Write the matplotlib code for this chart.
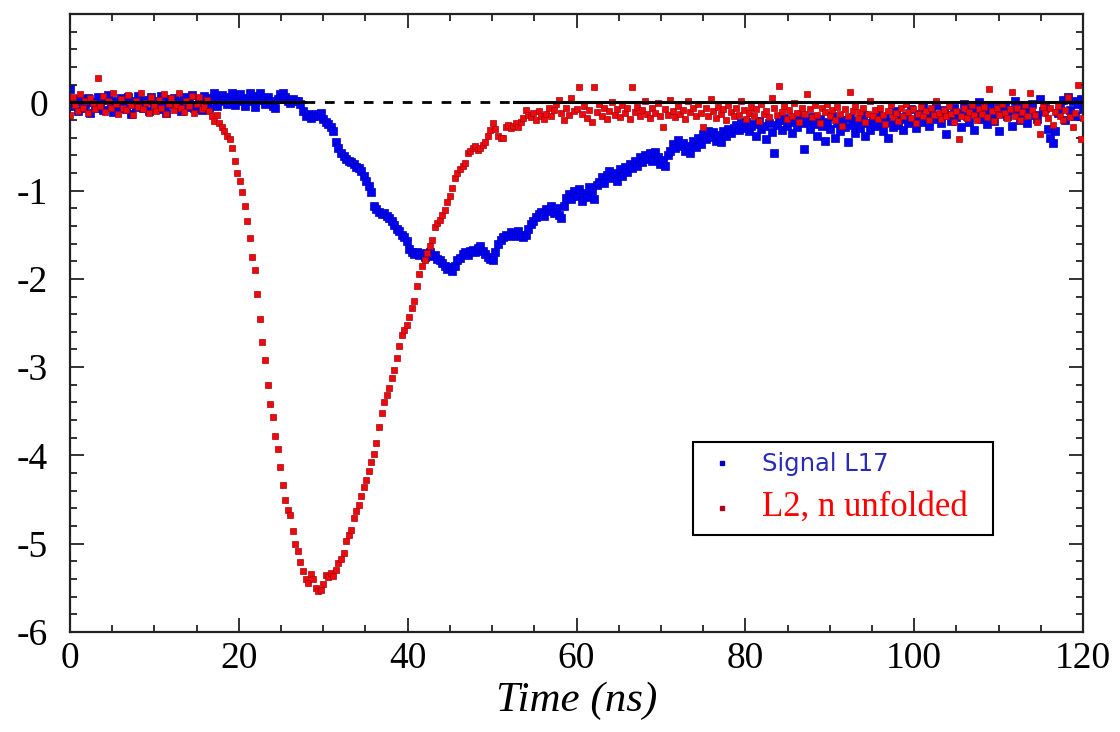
import numpy as np
import matplotlib
matplotlib.use("Agg")
import matplotlib.pyplot as plt
from matplotlib.ticker import MultipleLocator, FixedLocator
from matplotlib.lines import Line2D

# =========================
# data (read off the picture, sampled every 0.3 ns)
# =========================

time_ns = np.round(np.arange(401) * 0.3, 1)

signal_l17 = [
    0.15, -0.04, 0.02, -0.10, 0.04, -0.07, -0.02, 0.05, -0.12, 0.00,
    -0.06, 0.06, -0.03, -0.09, 0.03, 0.08, -0.04, -0.11, 0.01, -0.06,
    0.05, -0.02, -0.08, 0.06, -0.13, 0.02, -0.05, 0.07, -0.01, -0.07,
    0.03, -0.10, 0.06, -0.04, 0.01, -0.08, 0.07, -0.03, -0.12, 0.04,
    -0.02, 0.05, -0.07, 0.02, -0.10, 0.06, -0.05, 0.00, 0.08, -0.06,
    -0.03, 0.04, -0.09, 0.07, -0.01, -0.06, 0.05, 0.10, -0.04, 0.02,
    0.08, 0.03, -0.02, 0.06, 0.10, -0.03, 0.04, 0.09, 0.01, -0.04,
    0.05, 0.10, 0.02, -0.05, 0.07, 0.11, 0.03, -0.02, 0.06, 0.01,
    -0.04, -0.06, 0.04, 0.09, 0.11, 0.06, 0.02, -0.01, 0.04, 0.02,
    0.01, -0.02, -0.10, -0.15, -0.13, -0.18, -0.16, -0.13, -0.15, -0.12,
    -0.19, -0.22, -0.25, -0.28, -0.33, -0.45, -0.52, -0.57, -0.61, -0.64,
    -0.66, -0.68, -0.70, -0.73, -0.75, -0.78, -0.84, -0.89, -0.95, -1.02,
    -1.17, -1.21, -1.24, -1.27, -1.25, -1.29, -1.31, -1.35, -1.39, -1.43,
    -1.46, -1.50, -1.53, -1.57, -1.66, -1.70, -1.72, -1.70, -1.73, -1.71,
    -1.75, -1.72, -1.70, -1.74, -1.73, -1.77, -1.79, -1.82, -1.86, -1.89,
    -1.87, -1.91, -1.85, -1.79, -1.76, -1.72, -1.70, -1.73, -1.69, -1.67,
    -1.70, -1.65, -1.63, -1.68, -1.72, -1.75, -1.77, -1.79, -1.70, -1.60,
    -1.56, -1.53, -1.50, -1.52, -1.47, -1.49, -1.51, -1.46, -1.50, -1.53,
    -1.50, -1.44, -1.38, -1.35, -1.30, -1.27, -1.24, -1.29, -1.21, -1.23,
    -1.18, -1.25, -1.20, -1.28, -1.31, -1.17, -1.08, -1.04, -1.10, -1.00,
    -1.06, -0.98, -1.12, -1.03, -1.07, -0.96, -1.01, -1.09, -0.94, -0.90,
    -0.85, -0.91, -0.82, -0.78, -0.86, -0.80, -0.89, -0.76, -0.83, -0.73,
    -0.79, -0.70, -0.74, -0.66, -0.72, -0.62, -0.68, -0.60, -0.64, -0.58,
    -0.67, -0.56, -0.62, -0.70, -0.65, -0.72, -0.60, -0.55, -0.47, -0.52,
    -0.43, -0.50, -0.46, -0.55, -0.49, -0.58, -0.44, -0.51, -0.40, -0.47,
    -0.36, -0.42, -0.33, -0.39, -0.34, -0.44, -0.37, -0.45, -0.32, -0.38,
    -0.30, -0.35, -0.29, -0.26, -0.31, -0.24, -0.29, -0.22, -0.33, -0.27,
    -0.25, -0.38, -0.21, -0.30, -0.27, -0.42, -0.24, -0.34, -0.57, -0.26,
    -0.20, -0.31, -0.18, -0.27, -0.22, -0.35, -0.19, -0.28, -0.16, -0.24,
    -0.53, -0.21, -0.30, -0.17, -0.25, -0.38, -0.19, -0.27, -0.44, -0.22,
    -0.30, -0.16, -0.41, -0.24, -0.33, -0.20, -0.28, -0.45, -0.18, -0.26,
    -0.35, -0.21, -0.29, -0.14, -0.38, -0.23, -0.31, -0.19, -0.27, -0.12,
    -0.25, -0.33, -0.17, -0.40, -0.22, -0.28, -0.10, -0.26, -0.19, -0.31,
    -0.15, -0.24, -0.08, -0.20, -0.29, -0.13, -0.22, -0.05, -0.18, -0.27,
    -0.11, -0.19, -0.03, -0.16, -0.24, -0.09, -0.36, -0.14, -0.21, -0.06,
    -0.17, -0.12, -0.28, -0.02, -0.15, -0.22, -0.08, -0.31, -0.13, 0.00,
    -0.19, -0.10, -0.25, -0.04, -0.14, -0.21, -0.07, -0.32, -0.12, -0.03,
    -0.16, -0.09, -0.27, 0.02, -0.13, -0.20, -0.05, -0.15, -0.24, -0.08,
    -0.02, -0.14, -0.19, 0.04, -0.10, -0.07, -0.30, -0.40, -0.46, -0.33,
    -0.12, -0.05, 0.03, -0.20, 0.06, -0.09, 0.01, -0.16, -0.02, 0.04,
    -0.08,
]

l2_unfolded = [
    -0.14, 0.06, -0.03, -0.10, 0.09, -0.06, 0.02, -0.12, 0.05, -0.01,
    -0.08, 0.28, -0.04, 0.07, -0.11, 0.01, -0.07, 0.10, -0.02, -0.13,
    0.04, -0.06, -0.09, 0.08, -0.03, -0.14, 0.02, -0.05, 0.11, -0.08,
    -0.01, -0.12, 0.06, -0.04, -0.10, 0.03, -0.07, 0.09, -0.13, -0.02,
    0.05, -0.09, -0.03, 0.10, -0.06, -0.11, 0.01, -0.04, 0.07, -0.12,
    -0.02, 0.06, -0.08, -0.05, 0.03, -0.10, -0.15, -0.21, -0.14, -0.24,
    -0.28, -0.33, -0.38, -0.42, -0.52, -0.66, -0.80, -0.89, -1.02, -1.18,
    -1.34, -1.54, -1.75, -1.90, -2.17, -2.45, -2.72, -2.92, -3.20, -3.42,
    -3.56, -3.78, -3.93, -4.13, -4.33, -4.50, -4.62, -4.67, -4.86, -5.00,
    -5.08, -5.21, -5.31, -5.40, -5.45, -5.34, -5.40, -5.50, -5.53, -5.52,
    -5.46, -5.35, -5.38, -5.33, -5.36, -5.30, -5.22, -5.17, -5.10, -4.97,
    -4.90, -4.85, -4.71, -4.63, -4.56, -4.46, -4.36, -4.28, -4.18, -4.08,
    -3.98, -3.86, -3.68, -3.52, -3.40, -3.32, -3.24, -3.12, -3.03, -2.90,
    -2.76, -2.64, -2.58, -2.52, -2.43, -2.33, -2.25, -2.08, -1.94, -1.86,
    -1.79, -1.71, -1.63, -1.56, -1.41, -1.37, -1.33, -1.28, -1.22, -1.13,
    -1.06, -0.97, -0.86, -0.80, -0.76, -0.72, -0.69, -0.58, -0.55, -0.52,
    -0.50, -0.54, -0.52, -0.48, -0.45, -0.38, -0.31, -0.24, -0.30, -0.38,
    -0.41, -0.40, -0.28, -0.26, -0.29, -0.27, -0.24, -0.28, -0.22, -0.18,
    -0.09, -0.14, -0.17, -0.12, -0.20, -0.10, -0.15, -0.19, -0.13, -0.07,
    -0.16, -0.09, -0.02, 0.03, -0.12, -0.20, -0.06, -0.14, 0.05, -0.10,
    -0.08, 0.17, -0.13, -0.04, -0.18, -0.09, -0.22, 0.17, -0.11, -0.02,
    -0.15, -0.06, -0.19, -0.10, 0.00, -0.14, -0.08, -0.17, -0.03, -0.12,
    -0.07, -0.19, 0.17, -0.11, -0.05, -0.16, -0.09, 0.02, -0.13, -0.18,
    -0.06, -0.12, -0.01, -0.15, -0.28, -0.08, -0.14, 0.03, -0.10, -0.17,
    -0.04, -0.13, -0.09, -0.19, 0.01, -0.11, -0.06, -0.16, -0.02, -0.12,
    -0.28, -0.07, -0.15, 0.04, -0.10, -0.18, -0.05, -0.13, -0.08, -0.20,
    -0.03, -0.11, -0.16, -0.06, -0.14, 0.02, -0.09, -0.19, -0.12, -0.05,
    -0.15, -0.08, -0.21, -0.02, -0.13, -0.10, -0.17, 0.05, -0.07, -0.14,
    0.18, -0.11, -0.04, -0.19, -0.09, -0.15, -0.01, -0.12, -0.22, -0.06,
    -0.13, 0.09, -0.08, -0.17, -0.03, -0.14, -0.24, -0.07, -0.11, -0.02,
    -0.16, -0.09, -0.20, -0.05, -0.13, -0.27, -0.08, -0.15, 0.12, -0.10,
    -0.04, -0.18, -0.11, -0.07, -0.22, -0.13, 0.01, -0.16, -0.09, -0.19,
    -0.06, -0.14, -0.25, -0.10, -0.03, -0.17, -0.12, -0.21, -0.07, -0.15,
    -0.02, -0.11, -0.18, -0.08, -0.23, -0.13, -0.05, -0.16, -0.10, -0.20,
    -0.07, -0.14, 0.02, -0.12, -0.19, -0.09, -0.16, -0.04, -0.13, -0.22,
    -0.10, -0.42, -0.15, -0.06, -0.18, -0.11, -0.03, -0.14, -0.20, -0.08,
    -0.13, -0.05, -0.17, 0.15, -0.10, -0.21, -0.07, -0.14, -0.02, -0.12,
    -0.18, -0.08, 0.12, -0.15, -0.06, -0.20, -0.11, -0.03, -0.16, 0.11,
    -0.09, -0.14, -0.22, -0.36, -0.05, -0.12, -0.18, -0.07, -0.26, -0.11,
    -0.04, -0.15, -0.20, -0.09, 0.06, -0.17, -0.28, -0.12, 0.20, -0.42,
    -0.18,
]

# zero reference line: solid / dashed / solid pieces (ns)
zero_solid_left = [0, 27.8]
zero_dashed = [27.8, 52.6]
zero_solid_right = [52.6, 120]

x_ticks = [0, 20, 40, 60, 80, 100, 120]
y_ticks = [0, -1, -2, -3, -4, -5, -6]

# =========================
# figure
# =========================

plt.rcParams["axes.unicode_minus"] = False

fig = plt.figure(figsize=(11.2, 7.32), dpi=100)
ax = fig.add_axes([0.0625, 0.1366, 0.9045, 0.8443])

ax.plot(time_ns, signal_l17, ls="none", marker="s", ms=5.3,
        mfc="#0000f5", mec="#0000b8", mew=0.5, zorder=2)
ax.plot(time_ns, l2_unfolded, ls="none", marker="s", ms=5.0,
        mfc="#ee0a0a", mec="#a80010", mew=0.5, zorder=3)

ax.plot(zero_solid_left, [0, 0], color="black", lw=2.2, zorder=5)
ax.plot(zero_dashed, [0, 0], color="black", lw=2.0, ls=(0, (3.5, 3.5)), zorder=5)
ax.plot(zero_solid_right, [0, 0], color="black", lw=2.2, zorder=5)

ax.set_xlim(0, 120)
ax.set_ylim(-6, 1.0)

ax.xaxis.set_major_locator(FixedLocator(x_ticks))
ax.xaxis.set_minor_locator(MultipleLocator(5))
ax.yaxis.set_major_locator(FixedLocator(y_ticks))
ax.yaxis.set_minor_locator(MultipleLocator(0.2))

ax.tick_params(which="both", direction="in", top=True, right=True,
               width=1.3, color="#222222")
ax.tick_params(which="major", length=10)
ax.tick_params(which="minor", length=5)
ax.tick_params(axis="x", which="major", pad=7)
ax.tick_params(axis="y", which="major", pad=16)

for lab in ax.get_xticklabels() + ax.get_yticklabels():
    lab.set_fontfamily("Liberation Serif")
    lab.set_fontsize(27)

for sp in ax.spines.values():
    sp.set_linewidth(1.6)
    sp.set_color("#222222")

ax.set_xlabel("Time (ns)", fontfamily="Liberation Serif", fontstyle="italic",
              fontsize=31, labelpad=4)

# legend
handles = [
    Line2D([], [], ls="none", marker="s", ms=2.8, mfc="#0000c0", mec="#0000c0"),
    Line2D([], [], ls="none", marker="s", ms=2.8, mfc="#b00020", mec="#b00020"),
]
leg = ax.legend(handles, ["Signal L17", "L2, n unfolded"], loc="lower left",
                bbox_to_anchor=(0.615, 0.157, 0.296, 0.15), mode="expand",
                borderaxespad=0, numpoints=1, prop={"size": 17.5},
                handlelength=1.5, handletextpad=0.9, borderpad=0.45,
                labelspacing=0.6, fancybox=False, framealpha=1)
leg.get_frame().set_edgecolor("black")
leg.get_frame().set_linewidth(1.5)
texts = leg.get_texts()
texts[0].set_color("#2a2ab8")
texts[0].set_fontfamily("DejaVu Sans")
texts[0].set_fontsize(17.5)
texts[1].set_color("#ff0000")
texts[1].set_fontfamily("Liberation Serif")
texts[1].set_fontsize(25)

fig.savefig("out.png", dpi=100)
